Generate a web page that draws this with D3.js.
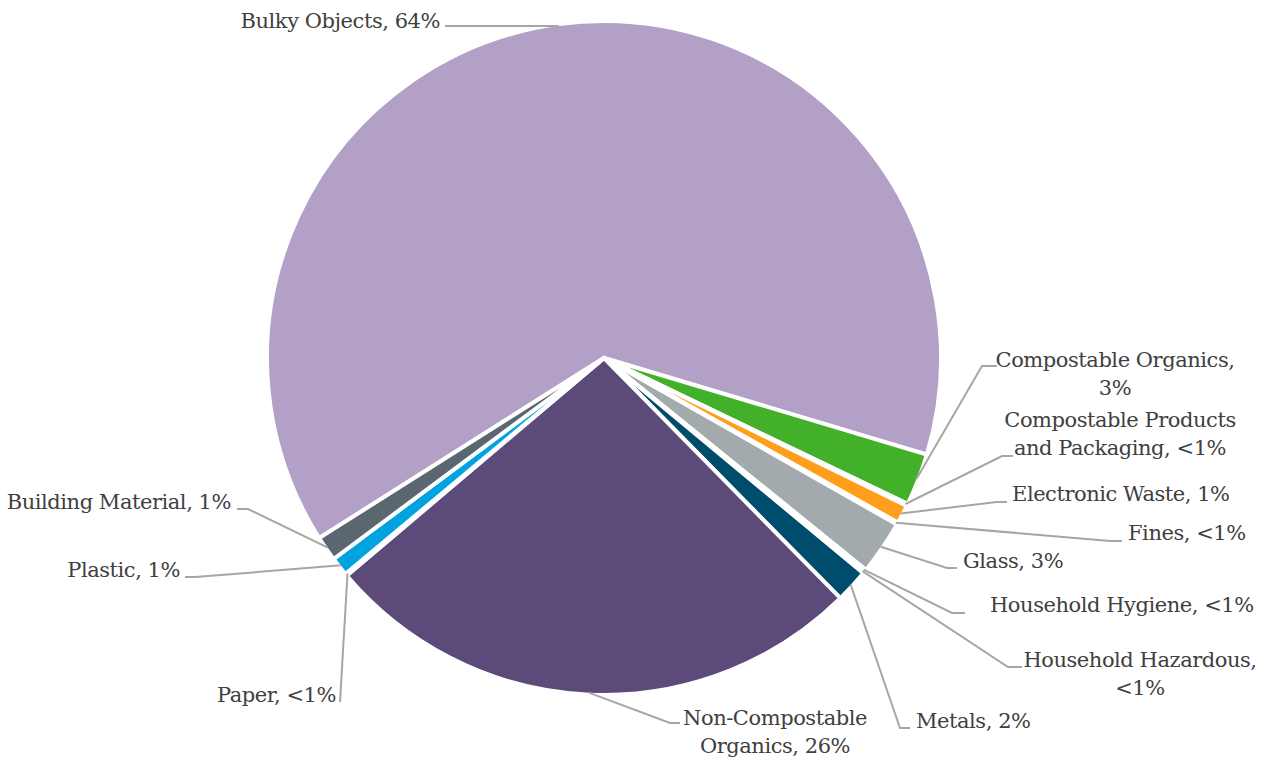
<!DOCTYPE html>
<html>
<head>
<meta charset="utf-8">
<script src="https://cdn.jsdelivr.net/npm/d3@7"></script>
<style>
  html, body { margin: 0; padding: 0; background: #ffffff; }
  svg { display: block; }
  .label { font-family: "DejaVu Serif", "Liberation Serif", serif; font-size: 21px; letter-spacing: -0.45px; fill: #404040; }
</style>
</head>
<body>
<svg id="chart" width="1268" height="757"></svg>
<script>
// Waste composition by category (percent of total), in slice order clockwise
const categories = [
  "Bulky Objects",
  "Compostable Organics",
  "Compostable Products and Packaging",
  "Electronic Waste",
  "Fines",
  "Glass",
  "Household Hygiene",
  "Household Hazardous",
  "Metals",
  "Non-Compostable Organics",
  "Paper",
  "Plastic",
  "Building Material"
];
const shares = [63.6, 2.5, 0.1, 0.9, 0.1, 2.6, 0.1, 0.1, 1.6, 26.2, 0.1, 0.9, 1.2];
const sliceColors = [
  "#b2a0c7", "#43b02a", "#8fc31f", "#ff9e1b", "#c99700", "#a2aaad",
  "#e35205", "#d0006f", "#004c6c", "#5c4a7b", "#4f9fd1", "#00a3e0", "#5b6770"
];

// Label placement: text anchor, how many words go on the first line, and
// the point where the leader line meets the label (with its horizontal elbow)
const labelLayout = [
  { x: 440,  y: 28,  anchor: "end",    firstLine: 0, attach: [445, 26],  elbow: [452, 26] },
  { x: 1115, y: 367, anchor: "middle", firstLine: 2, attach: [997, 366], elbow: [982, 366] },
  { x: 1120, y: 427, anchor: "middle", firstLine: 2, attach: [1013, 456], elbow: [1002, 456] },
  { x: 1012, y: 501, anchor: "start",  firstLine: 0, attach: [1007, 502], elbow: [997, 502] },
  { x: 1128, y: 540, anchor: "start",  firstLine: 0, attach: [1122, 541], elbow: [1110, 541] },
  { x: 963,  y: 568, anchor: "start",  firstLine: 0, attach: [957, 568], elbow: [947, 568] },
  { x: 990,  y: 612, anchor: "start",  firstLine: 0, attach: [965, 613], elbow: [952, 613] },
  { x: 1140, y: 667, anchor: "middle", firstLine: 2, attach: [1022, 667], elbow: [1008, 667] },
  { x: 916,  y: 728, anchor: "start",  firstLine: 0, attach: [910, 728], elbow: [900, 728] },
  { x: 775,  y: 725, anchor: "middle", firstLine: 1, attach: [680, 723], elbow: [670, 723] },
  { x: 336,  y: 702, anchor: "end",    firstLine: 0, attach: [340, 702], elbow: [340, 702] },
  { x: 180,  y: 577, anchor: "end",    firstLine: 0, attach: [185, 577], elbow: [195, 577] },
  { x: 231,  y: 509, anchor: "end",    firstLine: 0, attach: [237, 509], elbow: [248, 509] }
];

const firstSliceDeg = 237.7;   // angle of the first slice, clockwise from 12 o'clock
const cx = 604, cy = 358, radius = 337, lineHeight = 28;

const data = categories.map((name, i) => ({ name, value: shares[i], color: sliceColors[i], layout: labelLayout[i] }));

const svg = d3.select("#chart");
const g = svg.append("g").attr("transform", `translate(${cx},${cy})`);

const start = firstSliceDeg * Math.PI / 180;
const pie = d3.pie().value(d => d.value).sort(null).startAngle(start).endAngle(start + 2 * Math.PI);
const arcs = pie(data);

const arc = d3.arc().innerRadius(0).outerRadius(radius);
const rim = d3.arc().innerRadius(radius - 2).outerRadius(radius - 2);

g.selectAll("path.slice")
  .data(arcs)
  .join("path")
  .attr("class", "slice")
  .attr("d", arc)
  .attr("fill", d => d.data.color)
  .attr("stroke", "#ffffff")
  .attr("stroke-width", 4)
  .attr("stroke-linejoin", "miter");

const pctText = v => v < 0.5 ? "<1%" : `${Math.round(v)}%`;

// Leader lines: from the middle of each slice's rim to the label
const leaders = svg.append("g");
arcs.forEach(a => {
  const L = a.data.layout;
  const c = rim.centroid(a);
  const p0 = [cx + c[0], cy + c[1]];
  leaders.append("path")
    .attr("d", d3.line()([p0, L.elbow, L.attach]))
    .attr("fill", "none")
    .attr("stroke", "#a6a6a6")
    .attr("stroke-width", 2);
});

// Data labels
const labels = svg.append("g");
arcs.forEach(a => {
  const L = a.data.layout;
  const full = `${a.data.name}, ${pctText(a.data.value)}`;
  const words = full.split(" ");
  const lines = L.firstLine > 0
    ? [words.slice(0, L.firstLine).join(" "), words.slice(L.firstLine).join(" ")]
    : [full];
  const t = labels.append("text")
    .attr("class", "label")
    .attr("x", L.x)
    .attr("y", L.y)
    .attr("text-anchor", L.anchor);
  lines.forEach((ln, i) => {
    t.append("tspan").attr("x", L.x).attr("dy", i === 0 ? 0 : lineHeight).text(ln);
  });
});
</script>
</body>
</html>
